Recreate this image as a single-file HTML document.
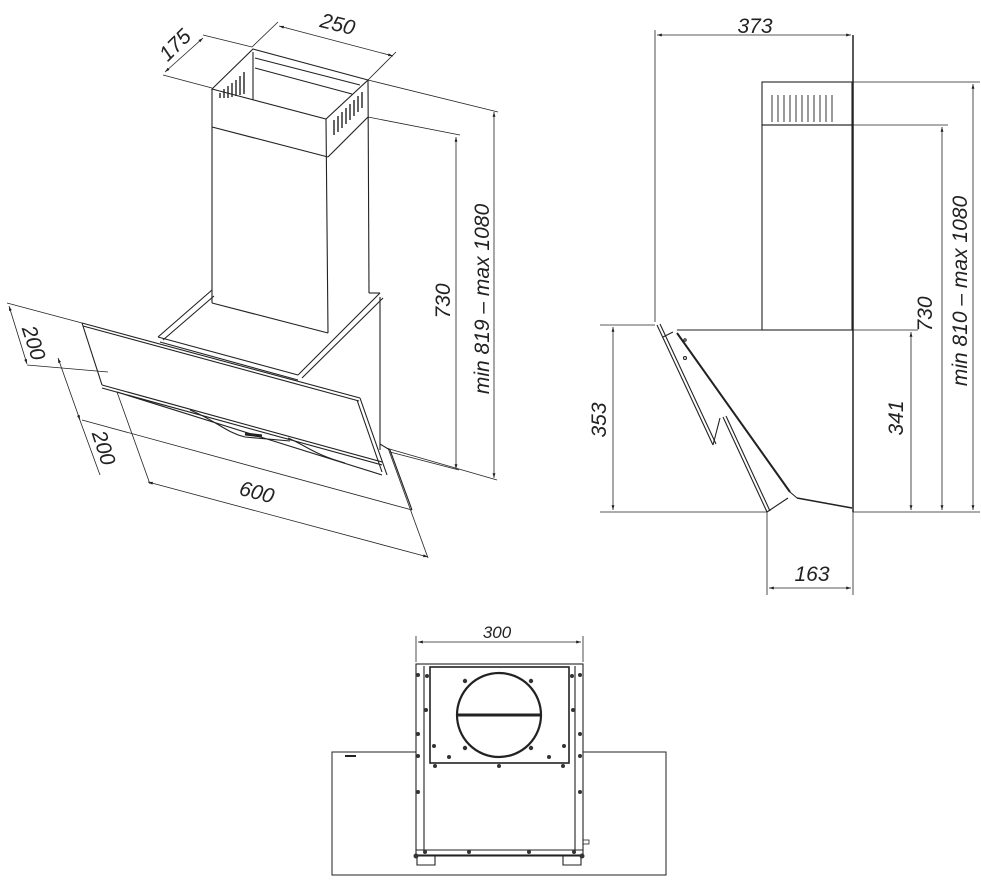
<!DOCTYPE html>
<html><head><meta charset="utf-8"><style>
html,body{margin:0;padding:0;background:#fff;}
svg{display:block;}
text{font-family:"Liberation Sans",sans-serif;font-style:italic;font-size:21px;fill:#222;}
</style></head><body>
<svg width="981" height="880" viewBox="0 0 981 880" xmlns="http://www.w3.org/2000/svg">
<defs>
<marker id="a" viewBox="0 0 10 10" refX="10" refY="5" markerWidth="9" markerHeight="6" orient="auto-start-reverse"><path d="M0,2 L10,5 L0,8 z" fill="#222"/></marker>
</defs>
<g stroke="#222" fill="none" stroke-width="1.1">
<!-- LEFT ISO VIEW: chimney -->
<polygon points="212,89 253,49 368,80 326,119" />
<line x1="326" y1="119" x2="328" y2="333"/>
<line x1="212" y1="89" x2="212" y2="303"/>
<line x1="368" y1="80" x2="369" y2="293"/>
<line x1="212" y1="127" x2="328" y2="157"/>
<line x1="328" y1="157" x2="368" y2="117"/>
<line x1="212" y1="303" x2="328" y2="333"/>
<line x1="255" y1="58" x2="360" y2="85"/>
<line x1="255" y1="68" x2="352" y2="94"/>
<line x1="253" y1="52" x2="253" y2="100"/>
<g stroke-width="1.4">
<line x1="220" y1="98" x2="220" y2="93"/><line x1="224" y1="98" x2="224" y2="89"/><line x1="228" y1="98" x2="228" y2="86"/><line x1="232" y1="97" x2="232" y2="83"/><line x1="236" y1="96" x2="236" y2="80"/><line x1="240" y1="95" x2="240" y2="76"/><line x1="244" y1="94" x2="244" y2="72"/>
<line x1="334" y1="135" x2="334" y2="120"/><line x1="338" y1="132" x2="338" y2="116"/><line x1="342" y1="128" x2="342" y2="112"/><line x1="346" y1="124" x2="346" y2="108"/><line x1="350" y1="120" x2="350" y2="104"/><line x1="354" y1="116" x2="354" y2="100"/><line x1="358" y1="112" x2="358" y2="96"/><line x1="362" y1="108" x2="362" y2="92"/>
</g>
<!-- base bracket -->
<line x1="212" y1="290" x2="158" y2="337"/>
<line x1="214" y1="296" x2="163" y2="340"/>
<line x1="158" y1="337" x2="298" y2="375"/>
<line x1="160" y1="342" x2="298" y2="380"/>
<line x1="380" y1="293" x2="298" y2="375"/>
<line x1="383" y1="298" x2="302" y2="378"/>
<line x1="369" y1="293" x2="380" y2="293"/>
<line x1="380" y1="297" x2="380" y2="450"/>
<!-- glass panel -->
<line x1="82" y1="323" x2="360" y2="398"/>
<line x1="83" y1="326" x2="359" y2="401"/>
<line x1="82" y1="323" x2="102" y2="385"/>
<line x1="102" y1="385" x2="382" y2="462"/>
<line x1="102" y1="388" x2="382" y2="465"/>
<line x1="360" y1="398" x2="387" y2="475"/>
<line x1="357" y1="400" x2="382" y2="472"/>
<line x1="117" y1="392" x2="382" y2="475"/>
<path d="M190,410 C215,420 225,432 245,437 L290,441"/>
<path d="M288,438 C305,445 315,455 345,463"/>
<line x1="245" y1="434" x2="262" y2="436" stroke-width="3"/>
<line x1="380" y1="444" x2="390" y2="450"/>
<line x1="390" y1="450" x2="412" y2="510"/>
<!-- left iso dims -->
<g stroke-width="0.8">
<line x1="212" y1="88" x2="163" y2="75"/>
<line x1="252" y1="47" x2="203" y2="35"/>
<line x1="165" y1="72" x2="203" y2="38" marker-start="url(#a)" marker-end="url(#a)"/>
<line x1="252" y1="47" x2="278" y2="22"/>
<line x1="368" y1="80" x2="396" y2="52"/>
<line x1="279" y1="26" x2="393" y2="56" marker-start="url(#a)" marker-end="url(#a)"/>
<line x1="368" y1="80" x2="498" y2="112"/>
<line x1="368" y1="117" x2="460" y2="135"/>
<line x1="386" y1="448" x2="497" y2="480"/>
<line x1="390" y1="452" x2="459" y2="470"/>
<line x1="456" y1="137" x2="456" y2="469" marker-start="url(#a)" marker-end="url(#a)"/>
<line x1="494" y1="112" x2="494" y2="478" marker-start="url(#a)" marker-end="url(#a)"/>
<line x1="82" y1="323" x2="7" y2="303"/>
<line x1="108" y1="372" x2="27" y2="365"/>
<line x1="9" y1="306" x2="27" y2="364" marker-start="url(#a)" marker-end="url(#a)"/>
<line x1="58" y1="358" x2="80" y2="420" marker-start="url(#a)" marker-end="url(#a)"/>
<line x1="78" y1="415" x2="100" y2="475"/>
<line x1="82" y1="420" x2="412" y2="510"/>
<line x1="117" y1="392" x2="150" y2="484"/>
<line x1="388" y1="448" x2="428" y2="558"/>
<line x1="148" y1="482" x2="428" y2="557" marker-start="url(#a)" marker-end="url(#a)"/>
</g>

<!-- RIGHT SIDE VIEW -->
<rect x="762" y="82" width="90" height="43"/>
<rect x="762" y="125" width="90" height="205"/>
<g stroke-width="0.9">
<path d="M772,95v27M778,95v27M784,95v27M790,95v27M796,95v27M802,95v27M808,95v27M814,95v27M820,95v27M826,95v27M832,95v27"/>
</g>
<line x1="677" y1="330" x2="853" y2="330"/>
<line x1="853" y1="35" x2="853" y2="512" stroke-width="1.5"/>
<line x1="657" y1="325" x2="713" y2="445"/>
<line x1="660" y1="324" x2="716" y2="444"/>
<line x1="713" y1="445" x2="720" y2="418"/>
<line x1="723" y1="417" x2="767" y2="512"/>
<line x1="726" y1="416" x2="770" y2="511"/>
<line x1="677" y1="333" x2="790" y2="492" stroke-width="2"/>
<line x1="790" y1="492" x2="797" y2="498"/>
<path d="M797,498 L852,508" stroke-width="1.6"/>
<line x1="767" y1="512" x2="788" y2="498"/>
<line x1="673" y1="332" x2="663" y2="337"/>
<circle cx="685" cy="358" r="1.5"/><circle cx="685" cy="340" r="1.2"/>
<g stroke-width="0.8">
<line x1="655" y1="30" x2="655" y2="322"/>
<line x1="657" y1="35" x2="851" y2="35" marker-start="url(#a)" marker-end="url(#a)"/>
<line x1="853" y1="82" x2="980" y2="82"/>
<line x1="853" y1="125" x2="948" y2="125"/>
<line x1="853" y1="330" x2="918" y2="330"/>
<line x1="853" y1="512" x2="980" y2="512"/>
<line x1="600" y1="325" x2="655" y2="325"/>
<line x1="600" y1="512" x2="767" y2="512"/>
<line x1="973" y1="84" x2="973" y2="510" marker-start="url(#a)" marker-end="url(#a)"/>
<line x1="942" y1="127" x2="942" y2="510" marker-start="url(#a)" marker-end="url(#a)"/>
<line x1="911" y1="332" x2="911" y2="510" marker-start="url(#a)" marker-end="url(#a)"/>
<line x1="613" y1="327" x2="613" y2="510" marker-start="url(#a)" marker-end="url(#a)"/>
<line x1="767" y1="512" x2="767" y2="595"/>
<line x1="853" y1="512" x2="853" y2="595"/>
<line x1="769" y1="588" x2="851" y2="588" marker-start="url(#a)" marker-end="url(#a)"/>
</g>

<!-- BOTTOM VIEW -->
<rect x="332" y="752" width="334" height="123" stroke-width="1"/>
<rect x="416" y="664" width="167" height="191" fill="#fff"/>
<line x1="424" y1="666" x2="424" y2="853"/>
<line x1="575" y1="666" x2="575" y2="853"/>
<rect x="430" y="667" width="139" height="96" stroke-width="1.6"/>
<line x1="416" y1="850" x2="583" y2="850"/>
<line x1="416" y1="856" x2="583" y2="856"/>
<path d="M417,856 v9 h18 v-9 M563,856 v9 h18 v-9"/>
<ellipse cx="499" cy="715" rx="42" ry="42" stroke-width="2.2"/>
<line x1="458" y1="715" x2="540" y2="715" stroke-width="3"/>
<rect x="583" y="840" width="6" height="4" stroke-width="0.8"/>
<line x1="345" y1="756" x2="356" y2="756" stroke-width="2"/>
<g stroke-width="0.8">
<line x1="416" y1="636" x2="416" y2="662"/>
<line x1="583" y1="636" x2="583" y2="662"/>
<line x1="418" y1="642" x2="581" y2="642" marker-start="url(#a)" marker-end="url(#a)"/>
</g>
</g>
<g fill="#333">
<circle cx="427" cy="676" r="2"/><circle cx="572" cy="676" r="2"/><circle cx="426" cy="710" r="2"/><circle cx="573" cy="710" r="2"/>
<circle cx="418" cy="675" r="2"/><circle cx="580" cy="675" r="2"/><circle cx="418" cy="734" r="2"/><circle cx="580" cy="734" r="2"/>
<circle cx="418" cy="792" r="2"/><circle cx="580" cy="792" r="2"/><circle cx="418" cy="756" r="2"/><circle cx="580" cy="756" r="2"/>
<circle cx="465" cy="681" r="2.2"/><circle cx="531" cy="681" r="2.2"/><circle cx="465" cy="748" r="2.2"/><circle cx="531" cy="748" r="2.2"/>
<circle cx="434" cy="746" r="2"/><circle cx="564" cy="746" r="2"/><circle cx="449" cy="757" r="2"/><circle cx="549" cy="757" r="2"/>
<circle cx="435" cy="766" r="2"/><circle cx="499" cy="766" r="2"/><circle cx="563" cy="766" r="2"/>
<circle cx="425" cy="852" r="2"/><circle cx="469" cy="852" r="2"/><circle cx="529" cy="852" r="2"/><circle cx="574" cy="852" r="2"/>
<circle cx="416" cy="856" r="2.5"/><circle cx="582" cy="856" r="2.5"/>
</g>

<!-- texts -->
<text transform="translate(180,50) rotate(-45)" text-anchor="middle">175</text>
<text transform="translate(336,31) rotate(14)" text-anchor="middle">250</text>
<text transform="translate(27,345) rotate(72)" text-anchor="middle">200</text>
<text transform="translate(97,450) rotate(72)" text-anchor="middle">200</text>
<text transform="translate(255,499) rotate(15)" text-anchor="middle">600</text>
<text transform="translate(450,301) rotate(-90)" text-anchor="middle">730</text>
<text transform="translate(489,299) rotate(-90)" text-anchor="middle">min 819 – max 1080</text>
<text x="755" y="33" text-anchor="middle">373</text>
<text transform="translate(932,314) rotate(-90)" text-anchor="middle">730</text>
<text transform="translate(967,291) rotate(-90)" text-anchor="middle">min 810 – max 1080</text>
<text transform="translate(903,418) rotate(-90)" text-anchor="middle">341</text>
<text transform="translate(606,420) rotate(-90)" text-anchor="middle">353</text>
<text x="812" y="581" text-anchor="middle">163</text>
<text x="497" y="638" text-anchor="middle" style="font-size:17px">300</text>
</svg>
</body></html>
